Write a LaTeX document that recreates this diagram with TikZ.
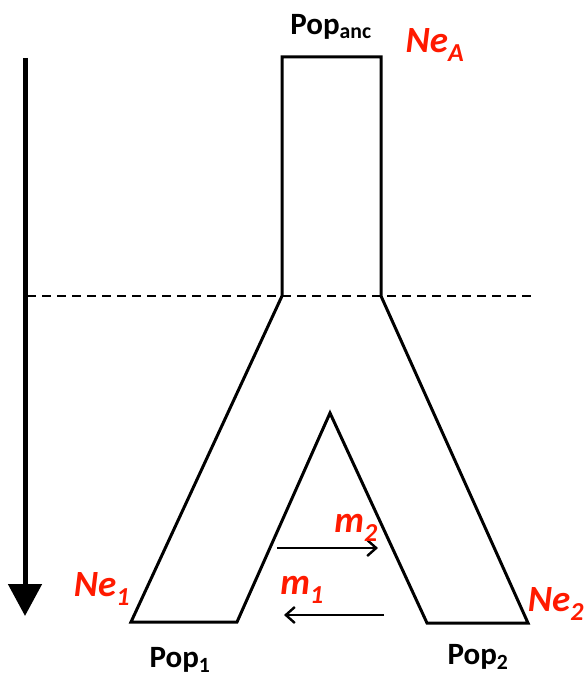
\documentclass[tikz,border=0pt]{standalone}
\usepackage{fontspec}
\setmainfont{Carlito}
\usetikzlibrary{arrows.meta}
\definecolor{lblred}{HTML}{FF1A00}
\tikzset{
  outline/.style={line width=3pt, line join=miter},
  redlbl/.style={text=lblred, font=\fontsize{37}{40}\selectfont\bfseries\itshape, inner sep=0pt},
  poplbl/.style={font=\fontsize{31}{34}\selectfont\bfseries, inner sep=0pt},
  migr/.style={line width=2.8pt, -{Straight Barb[length=9pt,width=16pt,line width=2.4pt]}},
}
\begin{document}
\begin{tikzpicture}[x=1pt,y=-1pt]
\useasboundingbox (0,0) rectangle (585,677);
% outline coordinates
\coordinate (tl) at (282,57);
\coordinate (tr) at (381,57);
\coordinate (sl) at (282,296);
\coordinate (sr) at (381,296);
\coordinate (b1l) at (131,622);
\coordinate (b1r) at (237,622);
\coordinate (apex) at (330,413);
\coordinate (b2l) at (427,623);
\coordinate (b2r) at (528,623);
\draw[outline] (sl) -- (tl) -- (tr) -- (sr) -- (b2r) -- (b2l) -- (apex) -- (b1r) -- (b1l) -- cycle;
% split line
\coordinate (dl) at (27,296);
\coordinate (dr) at (536,296);
\draw[line width=2pt, dash pattern=on 9pt off 6pt] (dl) -- (dr);
% time arrow
\coordinate (ta) at (25,58);
\coordinate (tb) at (25,616);
\draw[line width=5pt, -{Triangle[length=32pt,width=33pt]}] (ta) -- (tb);
% migration arrows
\coordinate (m2a) at (277,548);
\coordinate (m2b) at (378,548);
\draw[migr] (m2a) -- (m2b);
\coordinate (m1a) at (384,615);
\coordinate (m1b) at (284,615);
\draw[migr] (m1a) -- (m1b);
% labels
\node[poplbl] (popanc) at (331,27) {Pop\textsubscript{anc}};
\node[poplbl] (pop1) at (180,660) {Pop\textsubscript{1}};
\node[poplbl] (pop2) at (478,657) {Pop\textsubscript{2}};
\node[redlbl] (neA) at (435,45) {Ne\textsubscript{A}};
\node[redlbl] (ne1) at (102,589) {Ne\textsubscript{1}};
\node[redlbl] (ne2) at (556,604) {Ne\textsubscript{2}};
\node[redlbl] (lm2) at (356,528) {m\textsubscript{2}};
\node[redlbl] (lm1) at (302,590) {m\textsubscript{1}};
\end{tikzpicture}
\end{document}
